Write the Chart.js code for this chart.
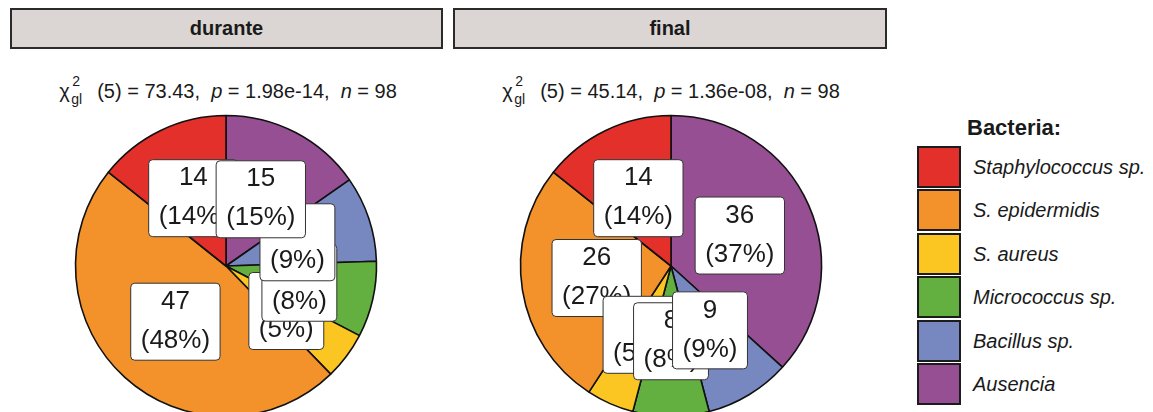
<!DOCTYPE html>
<html>
<head>
<meta charset="utf-8">
<script src="https://cdn.jsdelivr.net/npm/chart.js@4"></script>
<style>
  html, body { margin: 0; padding: 0; background: #ffffff; }
  body {
    width: 1153px; height: 412px; overflow: hidden; position: relative;
    font-family: "Liberation Sans", Arial, sans-serif; color: #1a1a1a;
  }
  .strip {
    position: absolute; top: 8px; height: 41px; box-sizing: border-box;
    border: 2px solid #2b2b2b; background: #dbd6d4;
    font-weight: bold; font-size: 20px; line-height: 37px; text-align: center;
  }
  .sub {
    position: absolute; top: 79px; width: 440px; text-align: center;
    font-size: 20px; white-space: pre; line-height: 24px;
  }
  .chi { position: relative; display: inline-block; width: 38px; text-align: left; }
  .chi .sp { position: absolute; left: 13px; top: -10px; font-size: 14px; }
  .chi .sb { position: absolute; left: 12px; top: 8px; font-size: 14px; }
  canvas.pie { position: absolute; }
  .leg-title { position: absolute; left: 967px; top: 115px; font-size: 22px; font-weight: bold; }
  .leg-item { position: absolute; left: 917px; height: 43px; width: 236px; }
  .leg-key {
    position: absolute; left: 0; top: 0; width: 44px; height: 42px; box-sizing: border-box;
    border: 2px solid #1c1c1c;
  }
  .leg-text {
    position: absolute; left: 56px; top: 0; line-height: 42px;
    font-size: 20px; font-style: italic; white-space: nowrap;
  }
</style>
</head>
<body>
<div class="strip" style="left:10px;width:433px;">durante</div>
<div class="strip" style="left:453px;width:434px;">final</div>
<div id="subDurante" class="sub" style="left:8px;"></div>
<div id="subFinal" class="sub" style="left:451px;"></div>
<canvas id="pieDurante" class="pie" width="340" height="340" style="left:56px;top:96px;"></canvas>
<canvas id="pieFinal" class="pie" width="340" height="340" style="left:501px;top:96px;"></canvas>
<div class="leg-title">Bacteria:</div>
<div id="legend"></div>

<script>
// Bacteria groups, in legend order
const categories = ['Staphylococcus sp.', 'S. epidermidis', 'S. aureus', 'Micrococcus sp.', 'Bacillus sp.', 'Ausencia'];
const colors = ['#e3302a', '#f3922b', '#fbc522', '#63b040', '#7788c0', '#954f92'];

// Counts per group
const countsDurante = [14, 47, 5, 8, 9, 15];
const countsFinal = [14, 26, 5, 8, 9, 36];

// Goodness-of-fit results: [df, chi-squared, p, n]
const statsDurante = ['5', '73.43', '1.98e-14', '98'];
const statsFinal = ['5', '45.14', '1.36e-08', '98'];

function subtitleHtml(s) {
  return '<span class="chi">\u03c7<span class="sp">2</span><span class="sb">gl</span></span>' +
    '(' + s[0] + ') = ' + s[1] + ',  <i>p</i> = ' + s[2] + ',  <i>n</i> = ' + s[3];
}
document.getElementById('subDurante').innerHTML = subtitleHtml(statsDurante);
document.getElementById('subFinal').innerHTML = subtitleHtml(statsFinal);

// Legend
const legend = document.getElementById('legend');
categories.forEach((name, i) => {
  const item = document.createElement('div');
  item.className = 'leg-item';
  item.style.top = (146 + i * 43.4) + 'px';
  item.innerHTML = '<div class="leg-key" style="background:' + colors[i] + '"></div>' +
    '<div class="leg-text">' + name + '</div>';
  legend.appendChild(item);
});

// White boxed count / percent labels at half radius of each slice
const boxLabels = {
  id: 'boxLabels',
  afterDatasetsDraw(chart) {
    const meta = chart.getDatasetMeta(0);
    const values = chart.data.datasets[0].data;
    const total = values.reduce((a, b) => a + b, 0);
    const ctx = chart.ctx;
    ctx.save();
    ctx.font = '26px "Liberation Sans", Arial, sans-serif';
    ctx.textAlign = 'center';
    ctx.textBaseline = 'middle';
    // the first legend group is painted first, later ones on top
    for (let i = meta.data.length - 1; i >= 0; i--) {
      const p = meta.data[i].tooltipPosition(true);
      const v = values[i];
      const l1 = String(v);
      const l2 = '(' + Math.round(v / total * 100) + '%)';
      const w = Math.max(ctx.measureText(l1).width, ctx.measureText(l2).width) + 20;
      const h = 77;
      ctx.beginPath();
      ctx.roundRect(p.x - w / 2, p.y - h / 2, w, h, 4);
      ctx.fillStyle = '#ffffff';
      ctx.fill();
      ctx.lineWidth = 1;
      ctx.strokeStyle = '#333333';
      ctx.stroke();
      ctx.fillStyle = '#1a1a1a';
      ctx.fillText(l1, p.x, p.y - 20);
      ctx.fillText(l2, p.x, p.y + 19);
    }
    ctx.restore();
  }
};

function makePie(id, counts) {
  // slices run clockwise from 12 o'clock, so the legend order is reversed
  const data = counts.slice().reverse();
  const bg = colors.slice().reverse();
  const labels = categories.slice().reverse();
  new Chart(document.getElementById(id), {
    type: 'pie',
    data: {
      labels: labels,
      datasets: [{ data: data, backgroundColor: bg, borderColor: '#111111', borderWidth: 1.6 }]
    },
    options: {
      responsive: false,
      animation: false,
      radius: 150.5,
      layout: { padding: 0 },
      plugins: { legend: { display: false }, tooltip: { enabled: false } }
    },
    plugins: [boxLabels]
  });
}

makePie('pieDurante', countsDurante);
makePie('pieFinal', countsFinal);
</script>
</body>
</html>
